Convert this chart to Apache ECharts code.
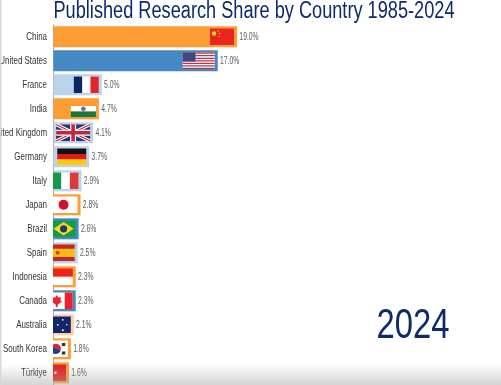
<!DOCTYPE html>
<html>
<head>
<meta charset="utf-8">
<script src="https://cdn.jsdelivr.net/npm/echarts@6/dist/echarts.min.js"></script>
<style>
html, body { margin: 0; padding: 0; background: #fff; overflow: hidden; }
#main { width: 501px; height: 385px; }
</style>
</head>
<body>
<div id="main"></div>
<script>
const countries = ['China', 'United States', 'France', 'India', 'United Kingdom', 'Germany', 'Italy', 'Japan', 'Brazil', 'Spain', 'Indonesia', 'Canada', 'Australia', 'South Korea', 'Türkiye']
const shares = [19.0, 17.0, 5.0, 4.7, 4.1, 3.7, 2.9, 2.8, 2.6, 2.5, 2.3, 2.3, 2.1, 1.8, 1.6]
const barColors = ['#fe9c36', '#4488c4', '#bdd3ec', '#fe9c36', '#bdd3ec', '#bdd3ec', '#bdd3ec', '#fe9c36', '#4488c4', '#bdd3ec', '#fe9c36', '#4488c4', '#fbcfa6', '#fe9c36', '#fe9c36']
const flagCodes = ['cn', 'us', 'fr', 'in', 'gb', 'de', 'it', 'jp', 'br', 'es', 'id', 'ca', 'au', 'kr', 'tr']
const flagWidths = [24, 32, 25, 25, 34, 29, 26, 28, 24, 26, 26, 32, 26, 26, 26]

const NAVY = '#0f2a6b'
const FONT = 'Liberation Sans'

// each flag is drawn in a w x h box with its top left corner at x, y
function rect(x, y, w, h, fill) {
  return { type: 'rect', shape: { x, y, width: w, height: h }, style: { fill } }
}
function circle(cx, cy, r, fill) {
  return { type: 'circle', shape: { cx, cy, r }, style: { fill } }
}
function poly(points, fill) {
  return { type: 'polygon', shape: { points }, style: { fill } }
}
function line(x1, y1, x2, y2, stroke, lineWidth) {
  return { type: 'line', shape: { x1, y1, x2, y2 }, style: { stroke, lineWidth } }
}

function flagShapes(code, x, y, w, h) {
  const cx = x + w / 2
  const cy = y + h / 2
  switch (code) {
    case 'cn':
      return [rect(x, y, w, h, '#e8261f'), circle(x + 4, y + 5, 2.2, '#fbd62c'), circle(x + 8, y + 2.5, 0.7, '#fbd62c'), circle(x + 9.5, y + 5, 0.7, '#fbd62c'), circle(x + 9, y + 8, 0.7, '#fbd62c')]
    case 'us': {
      const out = [rect(x, y, w, h, '#ffffff')]
      for (let i = 0; i < 7; i++) out.push(rect(x, y + i * h * 2 / 13, w, h / 13, '#b5384f'))
      out.push(rect(x, y, w * 0.4, h * 7 / 13, '#3c4a80'))
      return out
    }
    case 'fr':
      return [rect(x, y, w, h, '#ffffff'), rect(x, y, w / 3, h, '#0d2560'), rect(x + w * 2 / 3, y, w / 3, h, '#e1252c')]
    case 'in':
      return [rect(x, y, w, h / 3, '#ff9a33'), rect(x, y + h / 3, w, h / 3, '#ffffff'), rect(x, y + h * 2 / 3, w, h / 3, '#14793a'), circle(cx, cy, 2.4, '#6a6fa4')]
    case 'gb':
      return [
        rect(x, y, w, h, '#24356f'),
        line(x, y, x + w, y + h, '#ffffff', 3.5),
        line(x + w, y, x, y + h, '#ffffff', 3.5),
        line(x, y, x + w, y + h, '#c8233c', 1.2),
        line(x + w, y, x, y + h, '#c8233c', 1.2),
        rect(cx - 3, y, 6, h, '#ffffff'), rect(x, cy - 3, w, 6, '#ffffff'),
        rect(cx - 1.8, y, 3.6, h, '#c8233c'), rect(x, cy - 1.8, w, 3.6, '#c8233c')
      ]
    case 'de':
      return [rect(x, y, w, h / 3, '#111111'), rect(x, y + h / 3, w, h / 3, '#dd1c1c'), rect(x, y + h * 2 / 3, w, h / 3, '#fdcb0a')]
    case 'it':
      return [rect(x, y, w, h, '#ffffff'), rect(x, y, w / 3, h, '#129a4e'), rect(x + w * 2 / 3, y, w / 3, h, '#dd3a3a')]
    case 'jp':
      return [rect(x, y, w, h, '#ffffff'), circle(cx, cy, 5, '#d0112b')]
    case 'br':
      return [rect(x, y, w, h, '#169b45'), poly([[cx, y + 1.5], [x + w - 2, cy], [cx, y + h - 1.5], [x + 2, cy]], '#fbd81e'), circle(cx, cy, 3.6, '#23377f')]
    case 'es':
      return [rect(x, y, w, h, '#f7bd12'), rect(x, y, w, h / 4, '#c8242c'), rect(x, y + h * 3 / 4, w, h / 4, '#c8242c'), circle(x + 9, cy, 2, '#b8502c')]
    case 'id':
      return [rect(x, y, w, h / 2, '#f5201c'), rect(x, y + h / 2, w, h / 2, '#ffffff')]
    case 'ca':
      return [rect(x, y, w, h, '#ffffff'), rect(x + w * 3 / 4, y, w / 4, h, '#f0202a'),
        poly([[cx, y + 2.5], [cx + 1.5, y + 5], [cx + 4.5, y + 5], [cx + 3.5, y + 8], [cx + 5.5, y + 9], [cx + 1, y + 12], [cx + 1, y + 14.5], [cx - 1, y + 14.5], [cx - 1, y + 12], [cx - 5.5, y + 9], [cx - 3.5, y + 8], [cx - 4.5, y + 5], [cx - 1.5, y + 5]], '#f0202a')]
    case 'au':
      return [rect(x, y, w, h, '#14246a'), circle(x + w - 13, cy, 0.9, '#ffffff'), circle(x + w - 8, cy - 5, 0.9, '#ffffff'), circle(x + w - 4, cy, 0.8, '#ffffff'), circle(x + w - 8, cy + 5.5, 1, '#ffffff')]
    case 'kr':
      return [rect(x, y, w, h, '#ffffff'), circle(cx + 1, cy, 5, '#cd2e3a'),
        { type: 'sector', shape: { cx: cx + 1, cy, r: 5, startAngle: 0.4, endAngle: 0.4 + Math.PI }, style: { fill: '#10428c' } },
        rect(cx + 7, y + 2.5, 3.4, 3, '#333333'), rect(cx + 7, y + h - 5.5, 3.4, 3, '#333333')]
    case 'tr':
      return [rect(x, y, w, h, '#e3201c'), circle(x + w - 10.5, cy, 1.2, '#ffffff')]
  }
  return []
}

// the reference lettering is a squeezed Arial, so text is set in Liberation Sans and scaled on x
function squeezedText(text, x, y, align, fontSize, scaleX, fill) {
  return {
    type: 'text',
    x,
    y,
    scaleX,
    style: { text, fontFamily: FONT, fontSize, fill, textAlign: align, textVerticalAlign: 'middle' }
  }
}

const myChart = echarts.init(document.getElementById('main'), null, { renderer: 'canvas' })

myChart.setOption({
  animation: false,
  backgroundColor: '#ffffff',
  graphic: [
    Object.assign(squeezedText('Published Research Share by Country 1985-2024', 53.5, 12, 'left', 23, 0.79, NAVY), { z: 5 }),
    Object.assign(squeezedText('2024', 376.5, 326, 'left', 42, 0.78, NAVY), { z: 5 }),
    // soft grey fade along the bottom edge of the frame
    { type: 'rect', silent: true, z: 20, shape: { x: 0, y: 364, width: 501, height: 21 },
      style: { fill: new echarts.graphic.LinearGradient(0, 0, 0, 1, [{ offset: 0, color: 'rgba(170,170,170,0)' }, { offset: 1, color: 'rgba(170,170,170,0.5)' }]) } },
    { type: 'rect', silent: true, z: 20, shape: { x: 0, y: 0, width: 1.5, height: 385 }, style: { fill: '#d8d8d4' } }
  ],
  grid: { left: 53.5, right: 0, top: 24.8, bottom: 0.2, containLabel: false, outerBoundsMode: 'none' },
  xAxis: { type: 'value', min: 0, max: 46.32, show: false },
  yAxis: {
    type: 'category',
    inverse: true,
    data: countries,
    axisTick: { show: false },
    axisLine: { show: true, lineStyle: { color: '#a8a8a8', width: 1 } },
    axisLabel: { show: false }
  },
  series: [
    {
      type: 'bar',
      barWidth: 21,
      data: shares.map((v, i) => ({ value: v, itemStyle: { color: barColors[i] } }))
    },
    {
      type: 'custom',
      clip: true,
      z: 3,
      data: shares.map((v, i) => [v, i]),
      renderItem: (params, api) => {
        const end = api.coord([api.value(0), api.value(1)])
        const i = params.dataIndex
        const w = flagWidths[i]
        const h = 16.5
        return { type: 'group', children: flagShapes(flagCodes[i], end[0] - 3 - w, end[1] - h / 2, w, h) }
      }
    },
    {
      type: 'custom',
      clip: false,
      z: 4,
      data: shares.map((v, i) => [v, i]),
      renderItem: (params, api) => {
        const end = api.coord([api.value(0), api.value(1)])
        const i = params.dataIndex
        return {
          type: 'group',
          children: [
            squeezedText(countries[i], 47, end[1], 'right', 11.5, 0.69, '#333333'),
            squeezedText(shares[i].toFixed(1) + '%', end[0] + 2.3, end[1], 'left', 10, 0.68, '#5a5a5a')
          ]
        }
      }
    }
  ]
})
</script>
</body>
</html>
